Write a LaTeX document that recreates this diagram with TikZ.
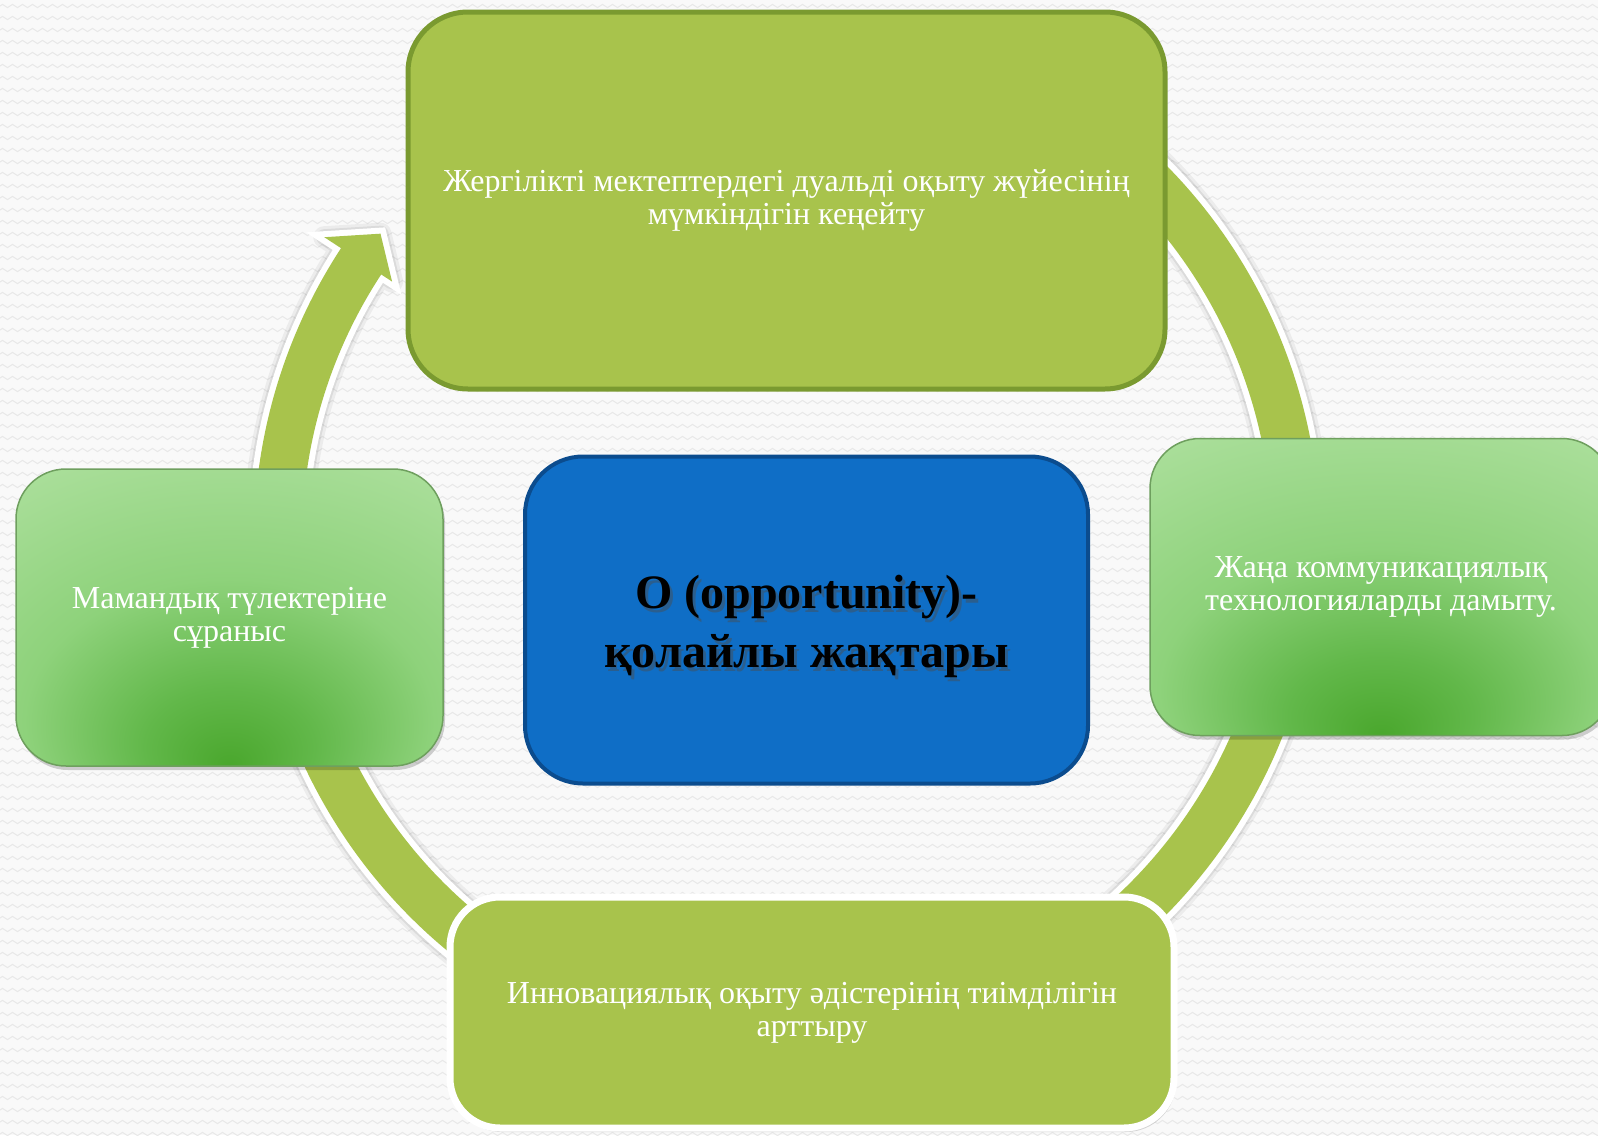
\documentclass[tikz,border=0pt]{standalone}
\usepackage{fontspec}
\setmainfont{Liberation Serif}
\usetikzlibrary{decorations.pathmorphing,shadows,calc}

\definecolor{bgc}{HTML}{F9F9F9}
\definecolor{zig}{HTML}{E8E8E8}
\definecolor{olive}{HTML}{A8C34C}
\definecolor{oliveD}{HTML}{7A9A30}
\definecolor{blueF}{HTML}{0F6EC6}
\definecolor{blueD}{HTML}{0B4C8E}
\definecolor{gD}{HTML}{4AA72D}
\definecolor{gM1}{HTML}{62B84A}
\definecolor{gM2}{HTML}{8ED27B}
\definecolor{gM3}{HTML}{A9DE99}
\definecolor{gL}{HTML}{BBE8AD}
\definecolor{gB}{HTML}{6E9F5E}

\pgfdeclareradialshading{glow}{\pgfpoint{0bp}{-25bp}}{color(0bp)=(gD); color(10bp)=(gM1); color(24bp)=(gM2); color(42bp)=(gM3); color(56bp)=(gL); color(80bp)=(gL)}

\newcommand{\ringpath}{($(C)+(60:533)$) arc[start angle=60, end angle=-213.2, radius=533] -- ($(C)+(-213.2:553)$) -- ($(C)+(-217:509)$) -- ($(C)+(-213.2:472)$) -- ($(C)+(-213.2:485)$) arc[start angle=-213.2, end angle=60, radius=485] -- cycle}

\tikzset{
  boxtext/.style={text=white, align=center, font=\fontsize{32}{33}\selectfont},
  topbox/.style={draw=oliveD, line width=5pt, fill=olive, rounded corners=60pt, inner sep=0pt, boxtext},
  greenbox/.style={draw=gB, line width=1.5pt, shading=glow, rounded corners=50pt, inner sep=0pt, boxtext,
     drop shadow={shadow xshift=2pt, shadow yshift=-4pt, opacity=0.18, fill=black}},
  bottombox/.style={draw=white, line width=7pt, fill=olive, rounded corners=50pt, inner sep=0pt, boxtext,
     drop shadow={shadow xshift=2pt, shadow yshift=-4pt, opacity=0.15, fill=black}},
  bluebox/.style={draw=blueD, line width=4pt, fill=blueF, rounded corners=58pt, inner sep=0pt},
  ctxt/.style={align=center, font=\fontsize{48}{59}\selectfont\bfseries, text=black},
}

\begin{document}
\begin{tikzpicture}[x=1pt,y=1pt]
\useasboundingbox (0,0) rectangle (1598,-1135);
\begin{scope}
\clip (0,0) rectangle (1598,-1135);
\fill[bgc] (0,0) rectangle (1598,-1135);
\foreach \k in {0,...,95}
  \draw[zig, line width=1pt, decorate, decoration={zigzag, segment length=10pt, amplitude=1.6pt}] (-10,-6-12*\k) -- (1610,-6-12*\k);

% ring arrow
\coordinate (C) at (787,-540);
\begin{scope}[yshift=-3pt]
  \draw[black, opacity=0.05, line width=22pt, line join=round] \ringpath;
  \draw[black, opacity=0.07, line width=16pt, line join=round] \ringpath;
\end{scope}
\draw[white, line width=12pt, line join=miter] \ringpath;
\fill[olive] \ringpath;

% boxes
\node[topbox, minimum width=757pt, minimum height=377pt] (top) at (786.5,-200.5)
  {Жергілікті мектептердегі дуальді оқыту жүйесінің\\мүмкіндігін кеңейту};
\node[greenbox, minimum width=427pt, minimum height=297pt] (left) at (229.5,-617.5)
  {Мамандық түлектеріне\\сұраныс};
\node[greenbox, minimum width=462pt, minimum height=297pt] (right) at (1381,-587)
  {Жаңа коммуникациялық\\технологияларды дамыту.};
\node[bluebox, minimum width=563pt, minimum height=327pt] (center) at (806.5,-620) {};
\node[ctxt, text=black!70, opacity=0.45] (ctxtsh) at ($(center)+(3,-10)$)
  {O (opportunity)-\\қолайлы жақтары};
\node[ctxt] (ctxt) at ($(center)+(0,-6)$) {O (opportunity)-\\қолайлы жақтары};
\node[bottombox, minimum width=724pt, minimum height=231pt] (bottom) at (812,-1012.5)
  {Инновациялық оқыту әдістерінің тиімділігін\\арттыру};
\end{scope}
\end{tikzpicture}
\end{document}
